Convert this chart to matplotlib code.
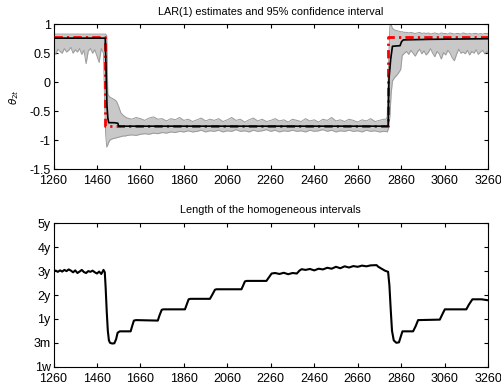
import matplotlib
matplotlib.use("Agg")
import matplotlib.pyplot as plt
import numpy as np

plt.rcParams['font.family'] = ['Liberation Sans', 'DejaVu Sans']

# ---------------- data: top panel ----------------
true_x = [1260, 1495, 1495, 2798, 2798, 3260]
true_y = [0.78, 0.78, -0.75, -0.75, 0.78, 0.78]

est_x = [1260, 1498, 1502, 1506, 1510, 1514, 1540, 1556, 1560, 2800, 2804, 2812, 2820, 2855, 2862, 2870, 3000, 3260]
est_y = [0.76, 0.76, 0.20, -0.40, -0.62, -0.70, -0.70, -0.71, -0.76, -0.76, 0.05, 0.40, 0.62, 0.63, 0.70, 0.73, 0.74, 0.75]

ci_x_a = list(range(1260, 1491, 10))
ci_up_a = [0.83] * 24
ci_lo_a = [0.55, 0.48, 0.57, 0.53, 0.50, 0.58, 0.52, 0.55, 0.60, 0.50, 0.56, 0.52,
           0.58, 0.48, 0.55, 0.32, 0.54, 0.58, 0.50, 0.56, 0.45, 0.34, 0.58, 0.50]

ci_x_b = [1495, 1500, 1505, 1510, 1515, 1520, 1530, 1540, 1550, 1560, 1570, 1580, 1590]
ci_up_b = [0.83, 0.83, 0.80, -0.20, -0.24, -0.26, -0.28, -0.30, -0.33, -0.42, -0.53, -0.57, -0.60]
ci_lo_b = [-0.30, -0.90, -1.12, -1.08, -1.03, -1.00, -0.98, -0.97, -0.96, -0.95, -0.94, -0.93, -0.93]

ci_x_c = list(range(1600, 2781, 20))
ci_up_c = [-0.62, -0.64, -0.61, -0.63, -0.66, -0.62, -0.60, -0.64, -0.63, -0.67,
           -0.63, -0.65, -0.61, -0.66, -0.64, -0.68, -0.65, -0.62, -0.67, -0.64,
           -0.66, -0.63, -0.68, -0.65, -0.61, -0.66, -0.64, -0.69, -0.65, -0.62,
           -0.67, -0.64, -0.68, -0.66, -0.63, -0.67, -0.65, -0.69, -0.64, -0.66,
           -0.68, -0.63, -0.67, -0.65, -0.69, -0.64, -0.66, -0.61, -0.67, -0.65,
           -0.68, -0.64, -0.66, -0.69, -0.65, -0.67, -0.63, -0.68, -0.66, -0.64]
ci_lo_c = [-0.92, -0.91, -0.92, -0.90, -0.89, -0.90, -0.88, -0.89, -0.87, -0.88,
           -0.86, -0.87, -0.85, -0.86, -0.84, -0.86, -0.85, -0.83, -0.86, -0.84,
           -0.85, -0.83, -0.86, -0.84, -0.85, -0.82, -0.85, -0.84, -0.86, -0.83,
           -0.85, -0.84, -0.82, -0.85, -0.83, -0.86, -0.84, -0.85, -0.83, -0.85,
           -0.84, -0.86, -0.83, -0.85, -0.84, -0.82, -0.85, -0.83, -0.86, -0.84,
           -0.85, -0.83, -0.85, -0.84, -0.86, -0.83, -0.85, -0.84, -0.86, -0.85]

ci_x_d = [2790, 2796, 2802, 2808, 2814, 2820, 2830, 2840, 2850, 2858]
ci_up_d = [-0.64, -0.60, 0.30, 0.97, 0.99, 0.93, 0.90, 0.89, 0.88, 0.87]
ci_lo_d = [-0.85, -0.86, -0.80, -0.60, -0.20, 0.02, 0.08, 0.12, 0.17, 0.22]

ci_x_e = list(range(2865, 3256, 10)) + [3260]
ci_up_e = [0.87, 0.86, 0.86, 0.85, 0.86, 0.85, 0.84, 0.85, 0.86, 0.84,
           0.85, 0.84, 0.85, 0.83, 0.84, 0.85, 0.84, 0.83, 0.85, 0.84,
           0.84, 0.83, 0.85, 0.84, 0.83, 0.84, 0.84, 0.83, 0.85, 0.84,
           0.83, 0.84, 0.83, 0.84, 0.84, 0.83, 0.84, 0.83, 0.84, 0.84, 0.84]
ci_lo_e = [0.46, 0.50, 0.53, 0.48, 0.55, 0.50, 0.45, 0.52, 0.57, 0.49,
           0.54, 0.47, 0.51, 0.58, 0.50, 0.44, 0.53, 0.49, 0.40, 0.51,
           0.47, 0.55, 0.50, 0.42, 0.37, 0.48, 0.57, 0.50, 0.52, 0.49,
           0.55, 0.47, 0.53, 0.50, 0.56, 0.48, 0.52, 0.55, 0.49, 0.53, 0.50]

# ---------------- data: bottom panel ----------------
len_x = [1260, 1270, 1280, 1290, 1300, 1310, 1320, 1330, 1340, 1350, 1360, 1370, 1380,
         1390, 1400, 1410, 1420, 1430, 1440, 1450, 1460, 1470, 1480, 1490, 1496,
         1500, 1505, 1510, 1515, 1520, 1530, 1540, 1548, 1555, 1565, 1615, 1622, 1630,
         1640, 1740, 1748, 1758, 1765, 1865, 1873, 1882, 1890, 1980, 1990, 2003, 2010,
         2125, 2133, 2141, 2150, 2240, 2250, 2264, 2280, 2300, 2320, 2340, 2360, 2380,
         2392, 2402, 2420, 2440, 2460, 2480, 2500, 2520, 2540, 2560, 2580, 2600, 2620,
         2640, 2660, 2680, 2700, 2720, 2747, 2755, 2770, 2785, 2800, 2806, 2812, 2818,
         2826, 2838, 2850, 2858, 2866, 2915, 2927, 2938, 3038, 3050, 3061, 3160, 3172,
         3188, 3230, 3260]
len_y = [4.00, 4.02, 3.97, 4.03, 3.98, 4.05, 4.00, 4.07, 4.02, 3.95, 4.03, 3.92, 3.98,
         4.05, 3.96, 3.92, 4.00, 3.97, 4.02, 3.95, 3.90, 3.98, 3.88, 4.05, 3.95,
         3.30, 2.30, 1.50, 1.10, 1.00, 0.97, 0.98, 1.15, 1.42, 1.48, 1.48, 1.70, 1.93,
         1.95, 1.93, 2.15, 2.38, 2.40, 2.40, 2.60, 2.82, 2.84, 2.84, 3.00, 3.22, 3.24,
         3.24, 3.40, 3.57, 3.59, 3.59, 3.72, 3.90, 3.92, 3.88, 3.93, 3.87, 3.92, 3.90,
         4.02, 4.08, 4.05, 4.09, 4.03, 4.10, 4.07, 4.14, 4.10, 4.18, 4.12, 4.20, 4.15,
         4.21, 4.18, 4.23, 4.20, 4.24, 4.25, 4.18, 4.10, 4.02, 3.97, 3.40, 2.40, 1.50,
         1.10, 1.00, 1.02, 1.25, 1.48, 1.48, 1.70, 1.95, 1.97, 2.20, 2.40, 2.40, 2.60,
         2.82, 2.82, 2.78]
len_ticks = [0, 1, 2, 3, 4, 5, 6]
len_labels = ['1w', '3m', '1y', '2y', '3y', '4y', '5y']

x_ticks = list(range(1260, 3261, 200))
top_yticks = [-1.5, -1, -0.5, 0, 0.5, 1]
top_ylabels = ['-1.5', '-1', '-0.5', '0', '0.5', '1']

ci_x = ci_x_a + ci_x_b + ci_x_c + ci_x_d + ci_x_e
ci_up = ci_up_a + ci_up_b + ci_up_c + ci_up_d + ci_up_e
ci_lo = ci_lo_a + ci_lo_b + ci_lo_c + ci_lo_d + ci_lo_e

# ---------------- figure ----------------
fig = plt.figure(figsize=(5.02, 3.85), dpi=100)
ax1 = fig.add_axes([0.1066, 0.561, 0.8656, 0.376])
ax2 = fig.add_axes([0.1066, 0.0475, 0.8656, 0.3725])

ax1.fill_between(ci_x, ci_lo, ci_up, color='#c8c8c8', lw=0, zorder=1)
ax1.plot(ci_x, ci_up, color='#9a9a9a', lw=0.7, zorder=2)
ax1.plot(ci_x, ci_lo, color='#9a9a9a', lw=0.7, zorder=2)
ax1.plot(true_x, true_y, color='red', lw=2.0, linestyle=(0, (3, 1.5, 0.8, 1.5)), zorder=3)
ax1.plot(est_x, est_y, color='black', lw=1.2, zorder=4)
ax1.set_xlim(1260, 3260)
ax1.set_ylim(-1.5, 1)
ax1.set_xticks(x_ticks)
ax1.set_yticks(top_yticks)
ax1.set_yticklabels(top_ylabels)
ax1.set_title('LAR(1) estimates and 95% confidence interval', fontsize=7.8, pad=6.5)
ax1.set_ylabel(r'$\theta_{2t}$', fontsize=7.5, labelpad=6)

ax2.plot(len_x, len_y, color='black', lw=1.5)
ax2.set_xlim(1260, 3260)
ax2.set_ylim(0, 6)
ax2.set_xticks(x_ticks)
ax2.set_yticks(len_ticks)
ax2.set_yticklabels(len_labels)
ax2.set_title('Length of the homogeneous intervals', fontsize=7.8, pad=7.5)

for ax in (ax1, ax2):
    ax.tick_params(direction='in', length=3.2, width=0.8, top=True, right=True,
                   labelsize=9)
    ax.tick_params(axis='x', pad=4.5)
    ax.tick_params(axis='y', pad=2)
    for s in ax.spines.values():
        s.set_linewidth(0.8)

fig.savefig('out.png', dpi=100)
